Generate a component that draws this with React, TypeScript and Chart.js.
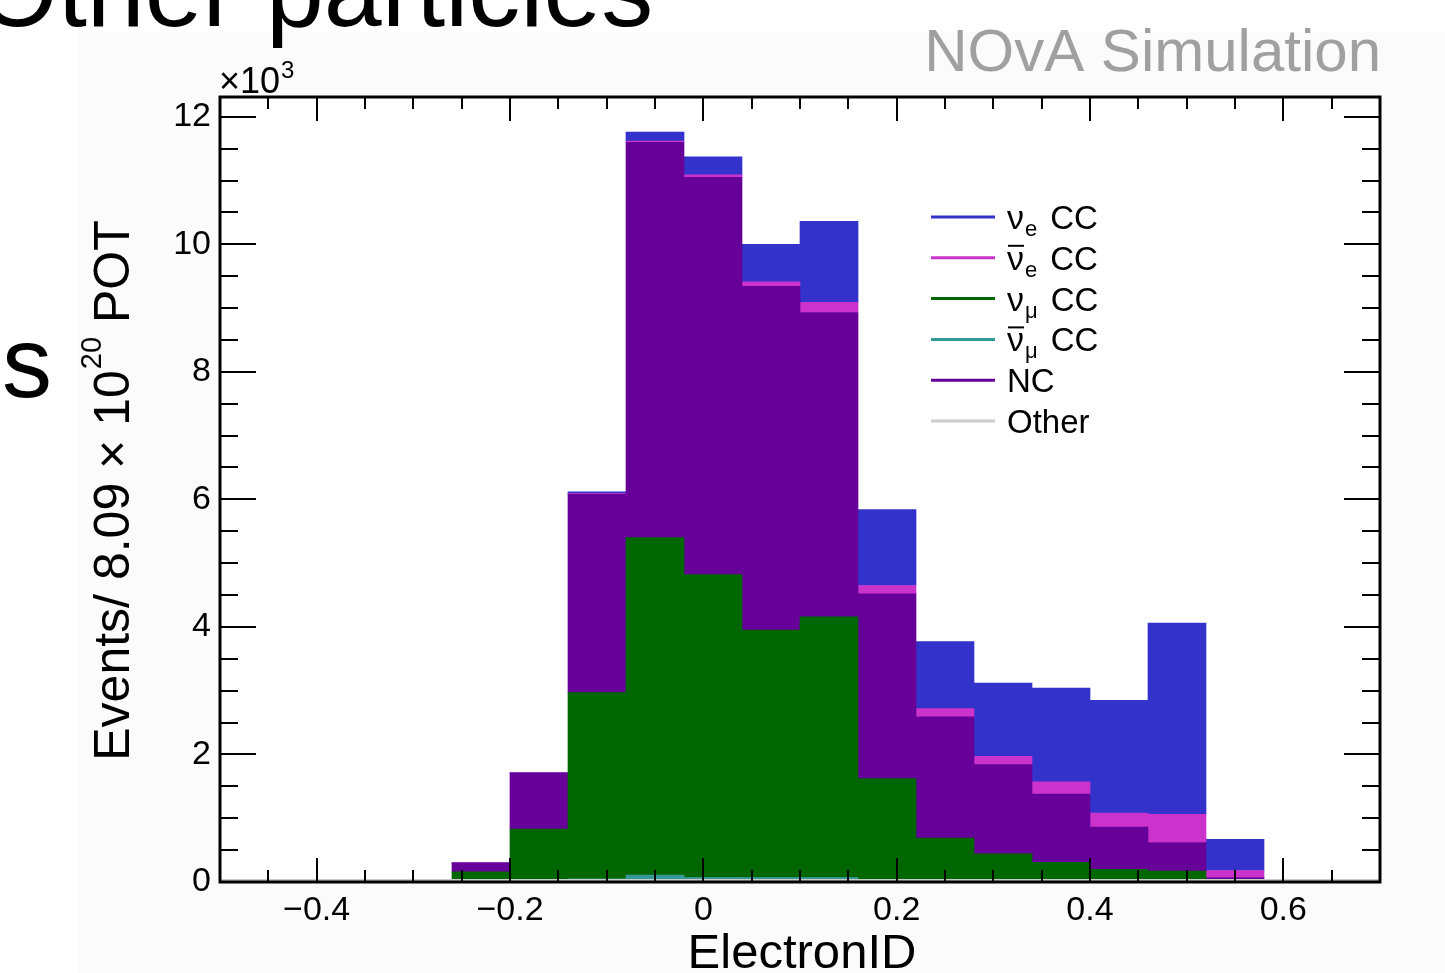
import React, { useEffect, useRef } from 'react';
import { Chart, registerables } from 'chart.js';

Chart.register(...registerables);

const FONT = "'Liberation Sans', Arial, Helvetica, sans-serif";

// ElectronID histogram: 20 bins of width 0.06 from -0.5 to 0.7 (bin centres)
const BIN_CENTERS = [-0.47, -0.41, -0.35, -0.29, -0.23, -0.17, -0.11, -0.05, 0.01, 0.07, 0.13, 0.19, 0.25, 0.31, 0.37, 0.43, 0.49, 0.55, 0.61, 0.67];

// Events per bin, in units of 10^3 (stack order bottom -> top)
const OTHER = [0, 0, 0, 0, 0.02, 0.03, 0.03, 0.04, 0.04, 0.04, 0.04, 0.03, 0.03, 0.03, 0.03, 0.03, 0.03, 0.02, 0, 0];
const NUMUBAR_CC = [0, 0, 0, 0, 0, 0.01, 0.02, 0.07, 0.03, 0.03, 0.03, 0.01, 0, 0, 0, 0, 0, 0, 0, 0];
const NUMU_CC = [0, 0, 0, 0, 0.14, 0.79, 2.92, 5.29, 4.75, 3.88, 4.09, 1.58, 0.66, 0.41, 0.28, 0.17, 0.14, 0.02, 0, 0];
const NC = [0, 0, 0, 0, 0.14, 0.88, 3.11, 6.2, 6.23, 5.39, 4.77, 2.9, 1.9, 1.4, 1.07, 0.66, 0.45, 0.03, 0, 0];
const NUEBAR_CC = [0, 0, 0, 0, 0, 0, 0.01, 0.02, 0.04, 0.07, 0.16, 0.13, 0.13, 0.13, 0.19, 0.22, 0.44, 0.11, 0, 0];
const NUE_CC = [0, 0, 0, 0, 0, 0, 0.03, 0.14, 0.28, 0.59, 1.27, 1.19, 1.05, 1.15, 1.47, 1.77, 3.0, 0.49, 0, 0];

const X_TICK_VALUES = [-0.4, -0.2, 0, 0.2, 0.4, 0.6];
const X_TICK_LABELS = ['\u22120.4', '\u22120.2', '0', '0.2', '0.4', '0.6'];
const Y_TICK_VALUES = [0, 2, 4, 6, 8, 10, 12];
const Y_TICK_LABELS = ['0', '2', '4', '6', '8', '10', '12'];

const X_MIN = -0.5;
const X_MAX = 0.7;
const Y_MAX = 12.31;

const X_TITLE = 'ElectronID';
const Y_TITLE_PARTS = ['Events/ 8.09 \u00d7 10', '20', ' POT'];
const Y_EXPONENT_BASE = '\u00d710';
const Y_EXPONENT = '3';
const WATERMARK = 'NOvA Simulation';
const PAGE_TITLE = 'Other particles';
const PAGE_SIDE = 's';

type Series = { key: string; values: number[]; color: string; nu: string; sub: string; bar: boolean; tail: string };

// stack order (bottom first)
const SERIES: Series[] = [
  { key: 'Other', values: OTHER, color: '#cccccc', nu: '', sub: '', bar: false, tail: 'Other' },
  { key: 'numubarCC', values: NUMUBAR_CC, color: '#339999', nu: '\u03bd', sub: '\u03bc', bar: true, tail: 'CC' },
  { key: 'numuCC', values: NUMU_CC, color: '#006600', nu: '\u03bd', sub: '\u03bc', bar: false, tail: 'CC' },
  { key: 'NC', values: NC, color: '#660099', nu: '', sub: '', bar: false, tail: 'NC' },
  { key: 'nuebarCC', values: NUEBAR_CC, color: '#cc33cc', nu: '\u03bd', sub: 'e', bar: true, tail: 'CC' },
  { key: 'nueCC', values: NUE_CC, color: '#3333cc', nu: '\u03bd', sub: 'e', bar: false, tail: 'CC' },
];
const LEGEND_ORDER = ['nueCC', 'nuebarCC', 'numuCC', 'numubarCC', 'NC', 'Other'];

function labelFor(values: number[], labels: string[], v: number): string {
  const i = values.findIndex((t) => Math.abs(t - v) < 1e-6);
  return i >= 0 ? labels[i] : '';
}

const decorPlugin = {
  id: 'rootDecor',
  beforeDraw(chart: any) {
    const ctx = chart.ctx;
    const a = chart.chartArea;
    ctx.save();
    ctx.fillStyle = '#ffffff';
    ctx.fillRect(0, 0, chart.width, chart.height);
    ctx.fillStyle = '#fbfbfb';
    ctx.fillRect(78, 32, chart.width - 78, chart.height - 32);
    ctx.fillStyle = '#ffffff';
    ctx.fillRect(a.left, a.top, a.right - a.left, a.bottom - a.top);
    ctx.restore();
  },
  afterDatasetsDraw(chart: any) {
    const ctx = chart.ctx;
    const a = chart.chartArea;
    const xs = chart.scales.x;
    const ys = chart.scales.y;
    ctx.save();
    // "Other" histogram outline along zero
    const y0 = ys.getPixelForValue(0);
    ctx.strokeStyle = '#cccccc';
    ctx.lineWidth = 2;
    ctx.beginPath();
    ctx.moveTo(a.left, y0 - 2);
    ctx.lineTo(a.right, y0 - 2);
    ctx.stroke();

    // ticks
    ctx.strokeStyle = '#000';
    ctx.lineWidth = 2;
    ctx.beginPath();
    for (let k = -10; k <= 14; k++) {
      const v = k * 0.05;
      if (v <= X_MIN + 1e-9 || v >= X_MAX - 1e-9) continue;
      const len = k % 4 === 0 ? 24 : 12;
      const px = Math.round(xs.getPixelForValue(v));
      ctx.moveTo(px, a.bottom);
      ctx.lineTo(px, a.bottom - len);
      ctx.moveTo(px, a.top);
      ctx.lineTo(px, a.top + len);
    }
    for (let k = 1; k <= 24; k++) {
      const v = k * 0.5;
      if (v >= Y_MAX) continue;
      const len = k % 4 === 0 ? 36 : 18;
      const py = Math.round(ys.getPixelForValue(v));
      ctx.moveTo(a.left, py);
      ctx.lineTo(a.left + len, py);
      ctx.moveTo(a.right, py);
      ctx.lineTo(a.right - len, py);
    }
    ctx.stroke();

    // frame
    ctx.lineWidth = 3;
    ctx.strokeRect(a.left, a.top, a.right - a.left, a.bottom - a.top);
    ctx.restore();
  },
  afterDraw(chart: any) {
    const ctx = chart.ctx;
    const a = chart.chartArea;
    ctx.save();
    ctx.fillStyle = '#000';
    ctx.textBaseline = 'alphabetic';

    // page fragments
    ctx.font = `104px ${FONT}`;
    ctx.textAlign = 'left';
    ctx.fillText(PAGE_TITLE, -23, 26);
    ctx.font = `100px ${FONT}`;
    ctx.fillText(PAGE_SIDE, 2, 397);

    // watermark
    ctx.font = `60px ${FONT}`;
    ctx.fillStyle = '#a0a0a0';
    ctx.textAlign = 'right';
    ctx.fillText(WATERMARK, 1381, 71);

    // x10^3
    ctx.fillStyle = '#000';
    ctx.textAlign = 'left';
    ctx.font = `36px ${FONT}`;
    ctx.fillText(Y_EXPONENT_BASE, a.left - 1, 93);
    const wb = ctx.measureText(Y_EXPONENT_BASE).width;
    ctx.font = `24px ${FONT}`;
    ctx.fillText(Y_EXPONENT, a.left - 1 + wb + 1, 78);

    // x title
    ctx.font = `49px ${FONT}`;
    ctx.textAlign = 'center';
    ctx.fillText(X_TITLE, 802, 968);

    // y title (rotated, with superscript)
    ctx.save();
    ctx.translate(129, 491);
    ctx.rotate(-Math.PI / 2);
    ctx.textAlign = 'left';
    ctx.font = `50px ${FONT}`;
    const w0 = ctx.measureText(Y_TITLE_PARTS[0]).width;
    const w2 = ctx.measureText(Y_TITLE_PARTS[2]).width;
    ctx.font = `29px ${FONT}`;
    const w1 = ctx.measureText(Y_TITLE_PARTS[1]).width;
    let x = -(w0 + w1 + w2) / 2;
    ctx.font = `50px ${FONT}`;
    ctx.fillText(Y_TITLE_PARTS[0], x, 0);
    x += w0;
    ctx.font = `29px ${FONT}`;
    ctx.fillText(Y_TITLE_PARTS[1], x + 1, -28);
    x += w1 + 1;
    ctx.font = `50px ${FONT}`;
    ctx.fillText(Y_TITLE_PARTS[2], x, 0);
    ctx.restore();

    // legend
    ctx.fillStyle = '#ffffff';
    ctx.fillRect(915, 197, 363, 243);
    LEGEND_ORDER.forEach((key, i) => {
      const s = SERIES.find((d) => d.key === key)!;
      const y = 217 + i * 40.8;
      ctx.strokeStyle = s.color;
      ctx.lineWidth = 3;
      ctx.beginPath();
      ctx.moveTo(931, y);
      ctx.lineTo(995, y);
      ctx.stroke();
      ctx.fillStyle = '#000';
      ctx.textAlign = 'left';
      let tx = 1007;
      if (s.nu) {
        ctx.font = `34px ${FONT}`;
        ctx.fillText(s.nu, tx, y + 12);
        const nw = ctx.measureText(s.nu).width;
        if (s.bar) {
          ctx.strokeStyle = '#000';
          ctx.lineWidth = 2;
          ctx.beginPath();
          ctx.moveTo(tx + 1, y - 12);
          ctx.lineTo(tx + nw, y - 12);
          ctx.stroke();
        }
        ctx.font = `22px ${FONT}`;
        ctx.fillText(s.sub, tx + nw + 1, y + 19);
        const sw = ctx.measureText(s.sub).width;
        tx = tx + nw + sw + 14;
      }
      ctx.font = `33px ${FONT}`;
      ctx.fillText(s.tail, tx, y + 12);
    });
    ctx.restore();
  },
};

export default function App() {
  const ref = useRef<HTMLCanvasElement>(null);
  useEffect(() => {
    if (!ref.current) return;
    const datasets = SERIES.map((s) => ({
      label: s.key,
      data: BIN_CENTERS.map((x, i) => ({ x, y: s.values[i] })),
      backgroundColor: s.color,
      borderWidth: 0,
      barPercentage: 1,
      categoryPercentage: 1,
      stack: 'all',
    }));
    const chart = new Chart(ref.current, {
      type: 'bar',
      data: { datasets },
      options: {
        responsive: false,
        animation: false,
        devicePixelRatio: 1,
        layout: { padding: { left: 0, right: 65, top: 97, bottom: 0 } },
        plugins: { legend: { display: false }, tooltip: { enabled: false }, title: { display: false } },
        scales: {
          x: {
            type: 'linear',
            stacked: true,
            min: X_MIN,
            max: X_MAX,
            offset: false,
            grid: { display: false, offset: false },
            border: { display: false },
            afterBuildTicks: (s: any) => {
              s.ticks = X_TICK_VALUES.map((v) => ({ value: v }));
            },
            afterFit: (s: any) => {
              s.height = 91;
            },
            ticks: {
              autoSkip: false,
              maxRotation: 0,
              minRotation: 0,
              padding: 0,
              color: '#000',
              font: { family: FONT, size: 34 },
              callback: (v: any) => labelFor(X_TICK_VALUES, X_TICK_LABELS, Number(v)),
            },
          },
          y: {
            type: 'linear',
            stacked: true,
            min: 0,
            max: Y_MAX,
            grid: { display: false },
            border: { display: false },
            afterBuildTicks: (s: any) => {
              s.ticks = Y_TICK_VALUES.map((v) => ({ value: v }));
            },
            afterFit: (s: any) => {
              s.width = 220;
            },
            ticks: {
              padding: 1,
              color: '#000',
              font: { family: FONT, size: 34 },
              callback: (v: any) => labelFor(Y_TICK_VALUES, Y_TICK_LABELS, Number(v)),
            },
          },
        },
      } as any,
      plugins: [decorPlugin],
    });
    return () => chart.destroy();
  }, []);
  return (
    <div style={{ position: 'absolute', left: 0, top: 0, width: 1445, height: 973, background: '#fff', overflow: 'hidden' }}>
      <canvas ref={ref} width={1445} height={973} style={{ display: 'block', width: 1445, height: 973 }} />
    </div>
  );
}
